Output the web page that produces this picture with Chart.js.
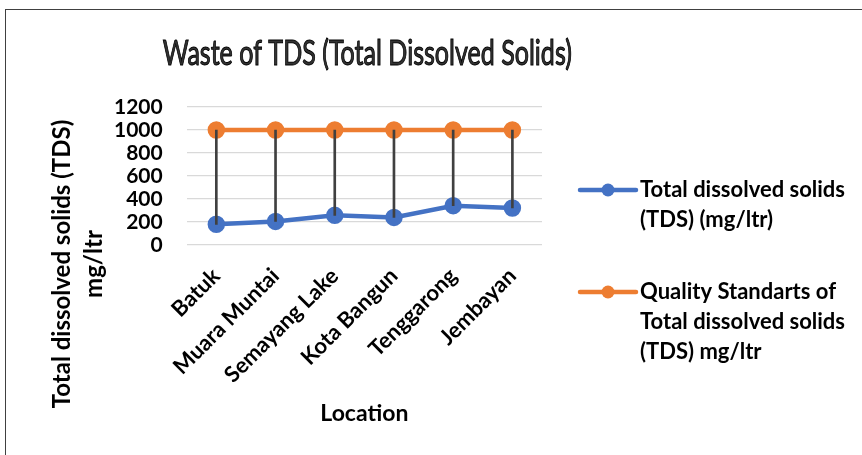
<!DOCTYPE html>
<html>
  <head>
    <meta charset="utf-8">
    <title>Waste of TDS</title>
    <script src="https://cdn.jsdelivr.net/npm/chart.js"></script>
    <style>
    body { margin: 0; background: #fff; }
    #wrap { position: relative; width: 862px; height: 455px; overflow: hidden; }
    #frame { position: absolute; left: 5px; top: 9px; width: 900px; height: 500px; border: 1px solid #404040; }
    canvas { position: absolute; left: 0; top: 0; }
  </style>
  </head>
  <body>
    <div id="wrap"><div id="frame"></div><canvas id="tdsChart" width="862" height="455"></canvas></div>
    <script>
    // chart data
    const locations = ["Batuk", "Muara Muntai", "Semayang Lake", "Kota Bangun", "Tenggarong", "Jembayan"];
    const tdsValues = [180, 205, 258, 240, 342, 322];
    const standardValues = [1000, 1000, 1000, 1000, 1000, 1000];
    const chartTitle = "Waste of TDS (Total Dissolved Solids)";
    const tdsLabel = ["Total dissolved solids", "(TDS) (mg/ltr)"];
    const standardLabel = ["Quality Standarts of", "Total dissolved solids", "(TDS) mg/ltr"];
    const yTitleLines = ["Total dissolved solids (TDS)", "mg/ltr"];

    const blue = "#4472C4";
    const orange = "#ED7D31";
    const font = "Lato";

    // high-low lines between the two series, drawn as thin floating bars
    const dropLines = tdsValues.map((v, i) => [v, standardValues[i]]);

    // title, y axis title and legend, placed like the original
    const extras = {
      id: "extras",
      afterDraw(chart) {
        const ctx = chart.ctx;
        const area = chart.chartArea;

        // outlined, slightly condensed title
        ctx.save();
        ctx.font = "35px " + font;
        ctx.textAlign = "center";
        ctx.textBaseline = "alphabetic";
        ctx.fillStyle = "#333";
        ctx.strokeStyle = "#000";
        ctx.lineWidth = 1;
        const tx = (area.left + area.right) / 2 + 3;
        ctx.fillText(chartTitle, tx, 65, 409);
        ctx.strokeText(chartTitle, tx, 65, 409);
        ctx.restore();

        ctx.save();
        ctx.fillStyle = "#000";
        ctx.font = "bold 24px " + font;
        ctx.textAlign = "center";
        ctx.textBaseline = "middle";
        ctx.translate(area.left - 124, area.bottom + 19);
        ctx.rotate(-Math.PI / 2);
        yTitleLines.forEach((t, i) => ctx.fillText(t, 0, i * 32));
        ctx.restore();

        const items = [
          { lines: tdsLabel, color: blue, y: area.top + 83 },
          { lines: standardLabel, color: orange, y: area.top + 185 }
        ];
        const x0 = area.right + 38;
        ctx.save();
        ctx.font = "bold 22px " + font;
        ctx.textBaseline = "middle";
        items.forEach((it) => {
          ctx.strokeStyle = it.color;
          ctx.lineWidth = 4.5;
          ctx.lineCap = "round";
          ctx.beginPath();
          ctx.moveTo(x0, it.y);
          ctx.lineTo(x0 + 56, it.y);
          ctx.stroke();
          ctx.fillStyle = it.color;
          ctx.beginPath();
          ctx.arc(x0 + 28, it.y, 6.5, 0, Math.PI * 2);
          ctx.fill();
          ctx.fillStyle = "#000";
          it.lines.forEach((t, i) => ctx.fillText(t, x0 + 60, it.y + i * 30));
        });
        ctx.restore();
      }
    };

    new Chart(document.getElementById("tdsChart"), {
      data: {
        labels: locations,
        datasets: [
          {
            type: "bar",
            data: dropLines,
            backgroundColor: "#404040",
            barThickness: 2,
            order: 0
          },
          {
            type: "line",
            label: tdsLabel.join(" "),
            data: tdsValues,
            borderColor: blue,
            backgroundColor: blue,
            borderWidth: 4.5,
            pointRadius: 6.5,
            pointHoverRadius: 6.5,
            tension: 0,
            order: 1
          },
          {
            type: "line",
            label: standardLabel.join(" "),
            data: standardValues,
            borderColor: orange,
            backgroundColor: orange,
            borderWidth: 4.5,
            pointRadius: 6.5,
            pointHoverRadius: 6.5,
            tension: 0,
            order: 1
          }
        ]
      },
      options: {
        responsive: false,
        animation: false,
        layout: { padding: { left: 90, right: 320, top: 107, bottom: 28 } },
        plugins: {
          legend: { display: false },
          tooltip: { enabled: false },
          title: { display: false }
        },
        scales: {
          x: {
            offset: true,
            grid: { display: false },
            border: { display: false },
            // the axis box is capped at half the free height; give it the room it has in the original
            afterFit: (scale) => { scale.height = 182; },
            ticks: {
              color: "#000",
              font: { family: font, size: 22, weight: "bold" },
              minRotation: 45,
              maxRotation: 45,
              autoSkip: false,
              padding: 10
            },
            title: {
              display: true,
              text: "Location",
              color: "#000",
              font: { family: font, size: 23, weight: "bold" },
              padding: { top: 8, bottom: 0 }
            }
          },
          y: {
            min: 0,
            max: 1200,
            grid: { color: "#D9D9D9", lineWidth: 1.2, drawTicks: false },
            border: { display: false },
            ticks: {
              stepSize: 200,
              autoSkip: false,
              color: "#000",
              font: { family: font, size: 21, weight: "bold" },
              padding: 24,
              callback: (v) => v
            }
          }
        }
      },
      plugins: [extras]
    });
  </script>
  </body>
</html>
